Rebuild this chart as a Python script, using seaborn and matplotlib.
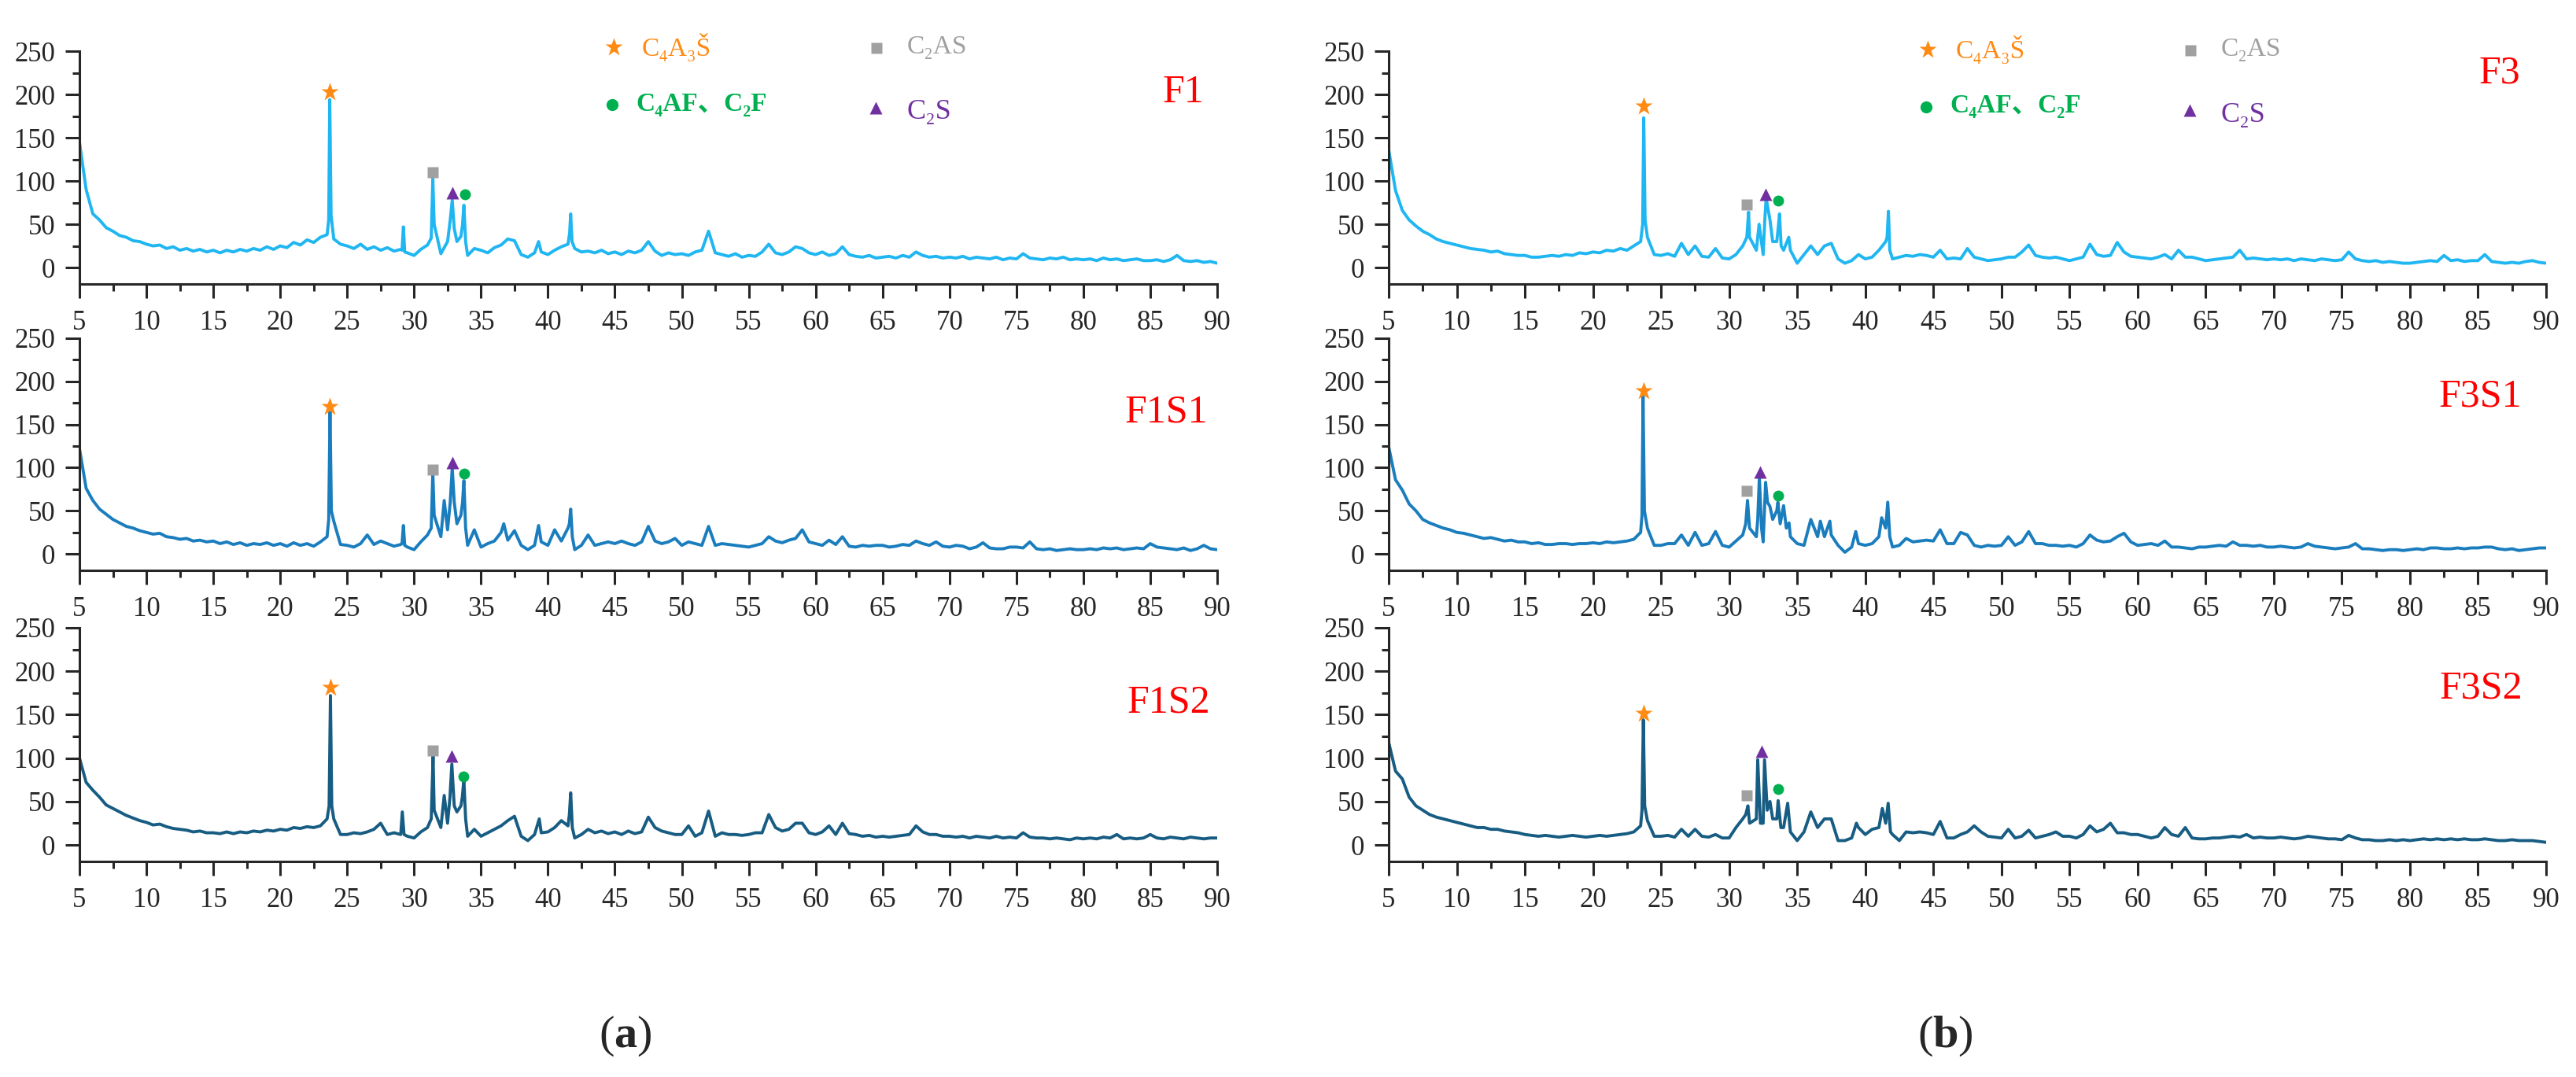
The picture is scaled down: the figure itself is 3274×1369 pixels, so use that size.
import numpy as np
import pandas as pd
import matplotlib.pyplot as plt
from matplotlib.lines import Line2D
import seaborn as sns

# 2-theta scan grid (deg); background intensities were read every 0.5 deg
two_theta = np.round(np.arange(5.0, 90.01, 0.5), 2)

# background counts, 10 values per 5 deg (5.0 ... 89.5) + value at 90
F1 = [145, 90, 62, 55, 46, 42, 37, 35, 31, 30,
      27, 25, 26, 22, 24, 20, 22, 19, 21, 18,
      20, 17, 20, 18, 21, 19, 22, 20, 24, 21,
      25, 23, 29, 26, 32, 29, 35, 38, 33, 27,
      25, 22, 27, 21, 24, 20, 23, 19, 21, 17,
      14, 21, 26, 50, 16, 30, 45, 36, 14, 22,
      20, 17, 23, 26, 33, 31, 15, 12, 17, 18,
      15, 20, 24, 27, 22, 18, 19, 17, 20, 16,
      18, 15, 19, 17, 20, 30, 19, 14, 17, 15,
      16, 14, 18, 20, 42, 17, 15, 13, 16, 12,
      14, 13, 18, 27, 17, 15, 18, 24, 22, 17,
      15, 18, 14, 16, 24, 15, 13, 12, 14, 11,
      12, 13, 11, 14, 12, 18, 14, 12, 13, 11,
      12, 11, 13, 10, 12, 11, 10, 12, 9, 11,
      10, 16, 11, 10, 9, 11, 10, 12, 9, 10,
      9, 10, 8, 11, 9, 10, 8, 9, 10, 8,
      8, 9, 7, 9, 14, 8, 7, 8, 6, 7,
      5]
F1S1 = [122, 76, 62, 52, 46, 40, 36, 32, 30, 27,
        25, 23, 24, 20, 19, 17, 18, 15, 16, 14,
        15, 12, 14, 11, 13, 10, 12, 11, 13, 10,
        12, 9, 13, 10, 12, 9, 14, 20, 38, 11,
        10, 8, 12, 22, 11, 15, 12, 9, 11, 8,
        5, 14, 22, 45, 20, 28, 60, 45, 10, 28,
        8, 12, 15, 25, 16, 27, 10, 5, 10, 14,
        10, 28, 15, 30, 5, 10, 22, 10, 12, 14,
        12, 15, 12, 10, 14, 32, 15, 12, 14, 18,
        10, 14, 12, 10, 32, 10, 12, 11, 10, 9,
        8, 10, 12, 20, 15, 13, 16, 18, 28, 14,
        12, 10, 16, 11, 20, 9, 8, 10, 9, 10,
        10, 8, 9, 11, 10, 15, 12, 10, 14, 9,
        8, 10, 9, 6, 8, 13, 7, 6, 6, 8,
        8, 7, 14, 6, 5, 6, 4, 5, 6, 5,
        5, 6, 5, 7, 6, 7, 5, 6, 7, 6,
        12, 8, 7, 6, 5, 7, 4, 6, 10, 6,
        5]
F1S2 = [100, 72, 63, 55, 46, 42, 38, 34, 31, 28,
        26, 23, 24, 21, 19, 18, 17, 15, 16, 14,
        14, 13, 15, 13, 15, 14, 16, 15, 17, 16,
        18, 17, 20, 19, 21, 20, 22, 30, 30, 12,
        12, 14, 13, 15, 18, 25, 12, 14, 12, 10,
        8, 15, 20, 40, 20, 25, 45, 45, 10, 18,
        10, 14, 18, 22, 28, 33, 10, 5, 12, 14,
        15, 20, 28, 22, 8, 12, 18, 14, 16, 13,
        15, 12, 16, 13, 15, 32, 20, 16, 14, 12,
        12, 22, 10, 14, 39, 10, 14, 12, 12, 11,
        12, 14, 14, 35, 20, 16, 18, 25, 25, 14,
        12, 15, 22, 12, 25, 13, 12, 10, 11, 9,
        10, 9, 10, 11, 12, 22, 15, 12, 12, 10,
        10, 9, 10, 8, 10, 9, 8, 10, 8, 9,
        8, 14, 9, 8, 8, 7, 8, 7, 6, 8,
        7, 8, 7, 9, 8, 12, 7, 8, 7, 8,
        12, 8, 7, 9, 8, 7, 9, 8, 7, 8,
        8]
F3 = [136, 89, 66, 55, 48, 42, 38, 33, 30, 28,
      26, 24, 22, 21, 20, 18, 19, 16, 15, 14,
      14, 12, 12, 13, 14, 13, 15, 14, 17, 16,
      18, 17, 20, 19, 22, 20, 25, 30, 35, 15,
      14, 16, 13, 28, 15, 25, 13, 12, 22, 11,
      10, 15, 25, 35, 20, 15, 55, 30, 20, 20,
      5, 15, 25, 15, 25, 28, 10, 5, 8, 15,
      10, 12, 20, 30, 10, 12, 14, 13, 15, 14,
      12, 20, 10, 11, 10, 22, 12, 10, 8, 9,
      10, 12, 12, 18, 26, 14, 12, 11, 12, 10,
      8, 10, 12, 27, 15, 13, 14, 29, 18, 13,
      12, 11, 10, 12, 15, 10, 20, 12, 12, 10,
      8, 9, 10, 11, 12, 20, 10, 11, 10, 9,
      10, 9, 10, 8, 10, 9, 8, 10, 9, 8,
      9, 18, 10, 8, 7, 8, 6, 7, 6, 5,
      5, 6, 7, 8, 7, 14, 8, 9, 7, 8,
      8, 15, 7, 6, 5, 6, 5, 7, 8, 6,
      5]
F3S1 = [124, 86, 74, 58, 50, 40, 36, 33, 30, 28,
        25, 24, 22, 20, 18, 19, 17, 15, 16, 14,
        14, 12, 13, 11, 11, 12, 12, 11, 12, 12,
        13, 12, 14, 13, 14, 15, 17, 25, 30, 10,
        10, 12, 12, 22, 10, 25, 10, 12, 26, 10,
        8, 15, 22, 30, 20, 14, 55, 50, 56, 20,
        12, 10, 40, 20, 20, 22, 10, 2, 8, 12,
        10, 12, 20, 30, 8, 10, 18, 14, 15, 16,
        15, 28, 12, 12, 25, 22, 10, 8, 10, 9,
        10, 20, 10, 14, 26, 12, 12, 10, 10, 9,
        10, 8, 12, 22, 16, 14, 15, 20, 24, 14,
        10, 11, 12, 10, 15, 8, 8, 7, 6, 8,
        8, 9, 10, 9, 14, 10, 10, 9, 10, 8,
        8, 9, 8, 7, 8, 12, 9, 8, 7, 6,
        7, 8, 12, 6, 6, 5, 4, 5, 5, 4,
        5, 6, 5, 7, 7, 6, 6, 7, 6, 7,
        7, 8, 8, 6, 5, 6, 4, 5, 6, 7,
        7]
F3S2 = [118, 85, 76, 55, 45, 40, 35, 32, 30, 28,
        26, 24, 22, 20, 20, 18, 18, 16, 15, 14,
        12, 11, 10, 11, 10, 9, 10, 11, 10, 9,
        10, 11, 10, 11, 12, 13, 15, 22, 28, 10,
        10, 11, 9, 18, 10, 18, 10, 9, 12, 8,
        8, 20, 30, 25, 30, 25, 50, 30, 20, 15,
        5, 15, 38, 20, 30, 30, 5, 5, 8, 20,
        12, 18, 20, 25, 12, 5, 15, 14, 15, 14,
        12, 27, 8, 8, 12, 15, 22, 15, 10, 9,
        8, 18, 8, 10, 17, 8, 10, 12, 15, 10,
        10, 8, 12, 22, 15, 18, 25, 14, 14, 12,
        12, 10, 8, 10, 20, 12, 10, 20, 8, 7,
        7, 8, 8, 9, 10, 9, 12, 8, 9, 8,
        8, 9, 8, 7, 8, 10, 9, 8, 7, 7,
        6, 11, 8, 6, 6, 5, 5, 6, 5, 6,
        5, 6, 7, 6, 7, 6, 7, 6, 7, 6,
        6, 7, 6, 5, 5, 6, 5, 5, 5, 4,
        3]

peaks_F1 = [(23.62, 55), (23.7, 194), (23.8, 60), (29.1, 20), (29.2, 47), (29.3, 18),
            (31.28, 34), (31.4, 103), (32.7, 55), (32.85, 78), (33.2, 30),
            (33.62, 50), (33.72, 72), (33.85, 30), (39.3, 30),
            (41.62, 40), (41.7, 62), (41.8, 30)]
peaks_F1S1 = [(23.62, 40), (23.72, 167), (23.82, 50), (29.1, 12), (29.2, 33), (29.3, 10),
              (31.28, 30), (31.4, 95), (32.25, 62), (32.7, 60), (32.85, 100), (33.2, 35),
              (33.62, 60), (33.72, 85), (33.85, 30), (36.7, 35), (39.3, 33),
              (41.6, 35), (41.7, 52), (41.82, 20)]
peaks_F1S2 = [(23.65, 45), (23.75, 172), (23.85, 45), (29.12, 38), (29.25, 12),
              (31.28, 30), (31.42, 102), (32.25, 57), (32.68, 55), (32.82, 93), (33.2, 38),
              (33.6, 55), (33.72, 75), (33.85, 30), (39.35, 30),
              (41.6, 35), (41.7, 60), (41.82, 20)]
peaks_F3 = [(23.65, 50), (23.73, 173), (23.83, 55), (31.3, 35), (31.43, 64),
            (32.2, 50), (32.62, 55), (32.72, 80), (33.2, 30), (33.6, 45), (33.7, 62),
            (33.82, 25), (34.38, 35), (41.6, 35), (41.7, 65), (41.8, 20)]
peaks_F3S1 = [(23.6, 45), (23.68, 183), (23.78, 50), (31.22, 35), (31.35, 62),
              (32.1, 40), (32.22, 89), (32.38, 30), (32.68, 83), (32.82, 60), (33.2, 40),
              (33.58, 60), (33.75, 35), (34.2, 30), (34.4, 36), (36.7, 38), (37.4, 38),
              (39.3, 26), (41.2, 42), (41.65, 60), (41.8, 20)]
peaks_F3S2 = [(23.6, 40), (23.7, 144), (23.8, 45), (31.22, 35), (31.38, 45),
              (32.1, 98), (32.3, 25), (32.6, 98), (32.8, 40), (33.2, 30), (33.6, 51),
              (33.8, 20), (34.3, 48), (39.35, 25), (41.25, 42), (41.68, 48), (41.85, 15)]

samples = ['F1', 'F1S1', 'F1S2', 'F3', 'F3S1', 'F3S2']
backgrounds = [F1, F1S1, F1S2, F3, F3S1, F3S2]
peak_lists = [peaks_F1, peaks_F1S1, peaks_F1S2, peaks_F3, peaks_F3S1, peaks_F3S2]

# phase markers per sample (2theta, counts)
star_xy = [(23.7, 203), (23.7, 171), (23.75, 181), (23.75, 186), (23.7, 189), (23.7, 151)]
square_xy = [(31.4, 110), (31.4, 98), (31.4, 109), (31.3, 73), (31.3, 73), (31.3, 57)]
triangle_xy = [(32.85, 86), (32.85, 106), (32.8, 102), (32.7, 85), (32.3, 95), (32.4, 108)]
circle_xy = [(33.8, 85), (33.75, 93), (33.7, 79), (33.6, 77), (33.6, 68), (33.6, 64)]
label_xy = [(89.0, 202), (89.3, 164), (89.5, 164), (88.1, 224), (88.2, 182), (88.3, 180)]

row_colors = ['#1fb6f2', '#1a7dbe', '#175c82']
c_orange, c_gray, c_green, c_purple = '#ff8a14', '#a0a0a0', '#00b050', '#7030a0'

sns.set_style('ticks')
plt.rcParams['font.family'] = ['Liberation Serif', 'DejaVu Serif', 'Noto Sans CJK SC']
plt.rcParams['mathtext.fontset'] = 'custom'
plt.rcParams['mathtext.rm'] = 'Liberation Serif'
plt.rcParams['mathtext.bf'] = 'Liberation Serif:bold'

W, H = 3274, 1369
fig = plt.figure(figsize=(W / 100, H / 100), dpi=100)

col_x = [(101, 1547), (1765, 3236)]
row_y = [(65, 361), (430, 725), (798, 1095)]

for i, name in enumerate(samples):
    col, row = divmod(i, 3)
    x0, x1 = col_x[col]
    y0, y1 = row_y[row]
    ax = fig.add_axes([x0 / W, 1 - y1 / H, (x1 - x0) / W, (y1 - y0) / H])
    ax.patch.set_alpha(0)

    pk = np.array(peak_lists[i])
    df = pd.DataFrame({
        'two_theta': np.concatenate([two_theta, pk[:, 0]]),
        'intensity': np.concatenate([backgrounds[i], pk[:, 1]]),
    })
    sns.lineplot(data=df, x='two_theta', y='intensity', ax=ax, estimator=None,
                 sort=True, color=row_colors[row], linewidth=2.8)

    ax.plot(*star_xy[i], marker='*', color=c_orange, markersize=17, mec='none')
    ax.plot(*square_xy[i], marker='s', color=c_gray, markersize=9.5, mec='none')
    ax.plot(*triangle_xy[i], marker='^', color=c_purple, markersize=11, mec='none')
    ax.plot(*circle_xy[i], marker='o', color=c_green, markersize=10, mec='none')

    ax.text(*label_xy[i], name, color='red', fontsize=36, ha='right', va='center')

    ax.set_xlim(5, 90)
    ax.set_ylim(-19, 250)
    ax.set_xticks(np.arange(5, 91, 5))
    ax.set_xticks(np.arange(7.5, 90, 5), minor=True)
    ax.set_yticks(np.arange(0, 251, 50))
    ax.set_yticks(np.arange(25, 250, 50), minor=True)
    ax.set_xlabel('')
    ax.set_ylabel('')
    sns.despine(ax=ax)
    for side in ['left', 'bottom']:
        ax.spines[side].set_linewidth(2.2)
    ax.tick_params(which='major', direction='out', length=13, width=2.2, labelsize=25)
    ax.tick_params(which='minor', direction='out', length=6.5, width=2.2)
    ax.tick_params(axis='x', which='major', pad=11)
    ax.tick_params(axis='y', which='major', pad=9)

# phase legend above each column (figure-level so no axes covers it)
legend_items = [
    ('*', c_orange, 17, 780, 60, 'C₄A₃Š', 816, 60, 'normal', 24),
    ('s', c_gray, 10, 1114, 61, 'C₂AS', 1153, 60, 'normal', 24),
    ('o', c_green, 11, 778, 133, 'C₄AF、C₂F', 808, 132, 'bold', 24),
    ('^', c_purple, 11, 1113, 137, 'C₂S', 1153, 143, 'normal', 26),
]
for dx, dy in [(0, 0), (1670, 3)]:
    for mk, col, ms, mx, my, txt, tx, ty, wt, fs in legend_items:
        fig.add_artist(Line2D([(mx + dx) / W], [1 - (my + dy) / H], marker=mk, color=col,
                              markersize=ms, mec='none', linestyle='none',
                              transform=fig.transFigure, zorder=5))
        fig.text((tx + dx) / W, 1 - (ty + dy) / H, txt, color=col, fontsize=fs,
                 fontweight=wt, ha='left', va='center')

fig.text(795 / W, 1 - 1317 / H, r'($\mathbf{a}$)', fontsize=42, ha='center', va='center')
fig.text(2472 / W, 1 - 1317 / H, r'($\mathbf{b}$)', fontsize=42, ha='center', va='center')

fig.savefig('out.png', dpi=100, facecolor='white')
